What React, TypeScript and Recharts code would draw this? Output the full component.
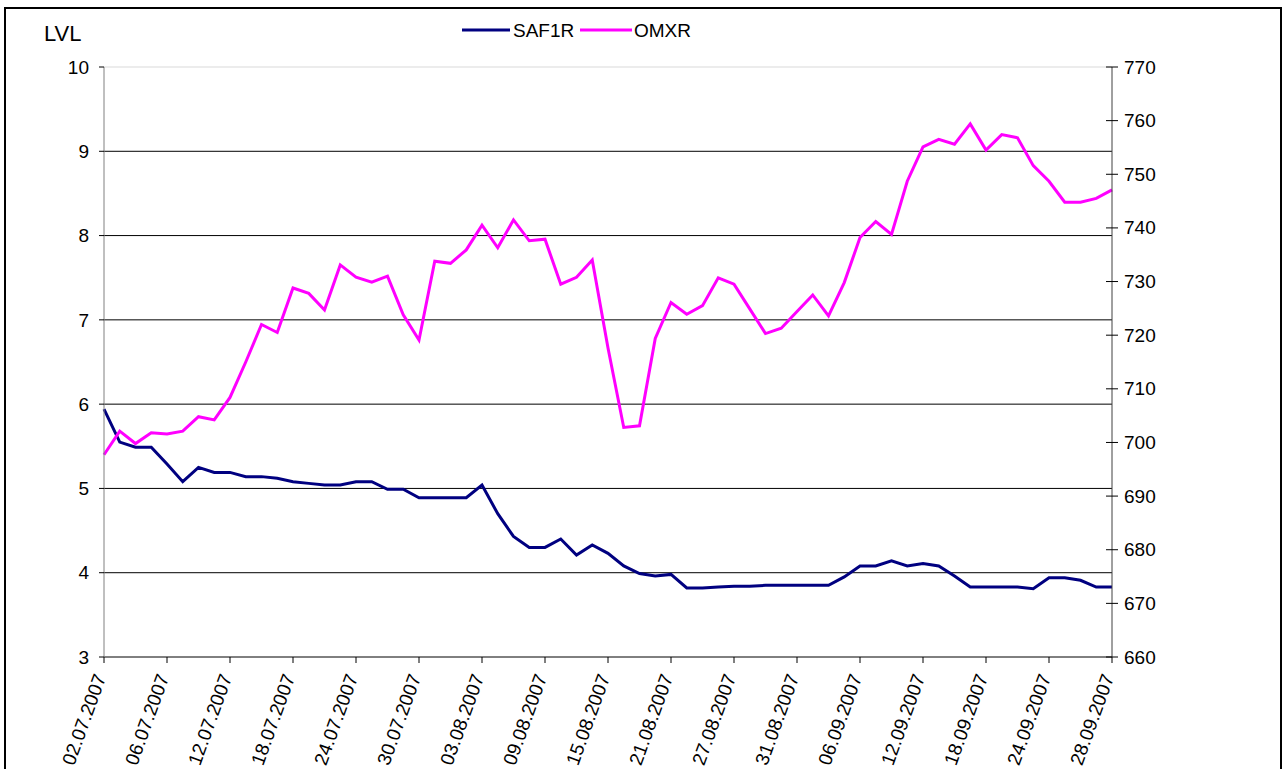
import React from 'react';
import {
  LineChart,
  Line,
  XAxis,
  YAxis,
  Legend,
  ReferenceLine,
  Label,
} from 'recharts';

const dates = [
  '02.07.2007', '03.07.2007', '04.07.2007', '05.07.2007', '06.07.2007',
  '09.07.2007', '10.07.2007', '11.07.2007', '12.07.2007', '13.07.2007',
  '16.07.2007', '17.07.2007', '18.07.2007', '19.07.2007', '20.07.2007',
  '23.07.2007', '24.07.2007', '25.07.2007', '26.07.2007', '27.07.2007',
  '30.07.2007', '31.07.2007', '01.08.2007', '02.08.2007', '03.08.2007',
  '06.08.2007', '07.08.2007', '08.08.2007', '09.08.2007', '10.08.2007',
  '13.08.2007', '14.08.2007', '15.08.2007', '16.08.2007', '17.08.2007',
  '20.08.2007', '21.08.2007', '22.08.2007', '23.08.2007', '24.08.2007',
  '27.08.2007', '28.08.2007', '29.08.2007', '30.08.2007', '31.08.2007',
  '03.09.2007', '04.09.2007', '05.09.2007', '06.09.2007', '07.09.2007',
  '10.09.2007', '11.09.2007', '12.09.2007', '13.09.2007', '14.09.2007',
  '17.09.2007', '18.09.2007', '19.09.2007', '20.09.2007', '21.09.2007',
  '24.09.2007', '25.09.2007', '26.09.2007', '27.09.2007', '28.09.2007',
];

// SAF1R share price, LVL (left axis)
const saf1r = [
  5.94, 5.55, 5.49, 5.49, 5.29, 5.08, 5.25, 5.19, 5.19, 5.14,
  5.14, 5.12, 5.08, 5.06, 5.04, 5.04, 5.08, 5.08, 4.99, 4.99,
  4.89, 4.89, 4.89, 4.89, 5.04, 4.7, 4.43, 4.3, 4.3, 4.4,
  4.21, 4.33, 4.23, 4.08, 3.99, 3.96, 3.98, 3.82, 3.82, 3.83,
  3.84, 3.84, 3.85, 3.85, 3.85, 3.85, 3.85, 3.95, 4.08, 4.08,
  4.14, 4.08, 4.11, 4.08, 3.96, 3.83, 3.83, 3.83, 3.83, 3.81,
  3.94, 3.94, 3.91, 3.83, 3.83,
];

// OMXR index (right axis)
const omxr = [
  697.7, 702.1, 699.8, 701.8, 701.6, 702.1, 704.8, 704.2, 708.4, 715.0,
  722.0, 720.5, 728.8, 727.8, 724.7, 733.1, 730.8, 729.9, 731.0, 723.8,
  719.1, 733.8, 733.4, 735.9, 740.5, 736.3, 741.5, 737.6, 737.9, 729.5,
  730.8, 734.0, 717.6, 702.8, 703.1, 719.4, 726.1, 723.9, 725.5, 730.7,
  729.5, 724.9, 720.3, 721.3, 724.4, 727.5, 723.6, 729.8, 738.2, 741.2,
  738.8, 748.7, 755.1, 756.5, 755.6, 759.4, 754.5, 757.4, 756.8, 751.6,
  748.7, 744.8, 744.8, 745.5, 747.1,
];

const leftTicks = [3, 4, 5, 6, 7, 8, 9, 10];
const rightTicks = [660, 670, 680, 690, 700, 710, 720, 730, 740, 750, 760, 770];
const gridValues = [4, 5, 6, 7, 8, 9];

const data = dates.map((d, i) => ({ date: d, SAF1R: saf1r[i], OMXR: omxr[i] }));

const FONT = '"Liberation Sans", Arial, sans-serif';
const FS = 19;

const DateTick = ({ x, y, payload }: any) => (
  <text
    x={x - 3}
    y={y + 8}
    dx={-2}
    transform={`rotate(-70, ${x - 3}, ${y + 8})`}
    textAnchor="end"
    dominantBaseline="central"
    fontSize={FS}
    fontFamily={FONT}
    fill="#000"
  >
    {payload.value}
  </text>
);

const RightTick = ({ x, y, payload }: any) => (
  <g>
    <line x1={x - 18} x2={x - 12} y1={y} y2={y} stroke="#000" />
    <text
      x={x}
      y={y}
      dominantBaseline="central"
      fontSize={FS}
      fontFamily={FONT}
      fill="#000"
    >
      {payload.value}
    </text>
  </g>
);

const LegendContent = () => (
  <svg width={240} height={24} style={{ overflow: 'visible' }}>
    <line x1={2} x2={50} y1={12} y2={12} stroke="#000080" strokeWidth={3} />
    <text x={53} y={12} dominantBaseline="central" fontSize={19} fontFamily={FONT}>
      SAF1R
    </text>
    <line x1={120} x2={172} y1={12} y2={12} stroke="#FF00FF" strokeWidth={3} />
    <text x={174} y={12} dominantBaseline="central" fontSize={19} fontFamily={FONT}>
      OMXR
    </text>
  </svg>
);

export default function App() {
  return (
    <div
      style={{
        position: 'absolute',
        left: 0,
        top: 0,
        width: 1285,
        height: 769,
        overflow: 'hidden',
        background: '#fff',
      }}
    >
      <div
        style={{
          position: 'absolute',
          left: 4,
          top: 7,
          width: 1274,
          height: 800,
          border: '2px solid #000',
        }}
      />
      <div style={{ position: 'absolute', left: 0, top: 0 }}>
        <LineChart
          width={1285}
          height={769}
          data={data}
          margin={{ top: 67, right: 113, bottom: 12, left: 44 }}
        >
          <ReferenceLine yAxisId="left" y={10} stroke="#d9d9d9" />
          {gridValues.map((v) => (
            <ReferenceLine key={v} yAxisId="left" y={v} stroke="#000" />
          ))}
          <XAxis
            dataKey="date"
            interval={3}
            height={100}
            tick={<DateTick />}
            tickSize={6}
            tickMargin={2}
            axisLine={{ stroke: '#000' }}
            tickLine={{ stroke: '#000' }}
          />
          <YAxis
            yAxisId="left"
            domain={[3, 10]}
            ticks={leftTicks}
            width={60}
            tickSize={5}
            tickMargin={10}
            axisLine={{ stroke: '#808080' }}
            tickLine={{ stroke: '#000' }}
            tick={{ fontSize: FS, fontFamily: FONT, fill: '#000' }}
          >
            <Label
              content={() => (
                <text x={44} y={41} fontSize={22} fontFamily={FONT} fill="#000">
                  LVL
                </text>
              )}
            />
          </YAxis>
          <YAxis
            yAxisId="right"
            orientation="right"
            domain={[660, 770]}
            ticks={rightTicks}
            width={60}
            tickSize={6}
            tickMargin={6}
            axisLine={{ stroke: '#404040' }}
            tickLine={{ stroke: '#000' }}
            tick={<RightTick />}
          />
          <Legend
            verticalAlign="middle"
            align="center"
            layout="horizontal"
            wrapperStyle={{ top: 18, left: 460, width: 240, height: 24 }}
            content={<LegendContent />}
          />
          <Line
            yAxisId="left"
            dataKey="SAF1R"
            stroke="#000080"
            strokeWidth={3}
            dot={false}
            isAnimationActive={false}
          />
          <Line
            yAxisId="right"
            dataKey="OMXR"
            stroke="#FF00FF"
            strokeWidth={3}
            dot={false}
            isAnimationActive={false}
          />
        </LineChart>
      </div>
    </div>
  );
}
